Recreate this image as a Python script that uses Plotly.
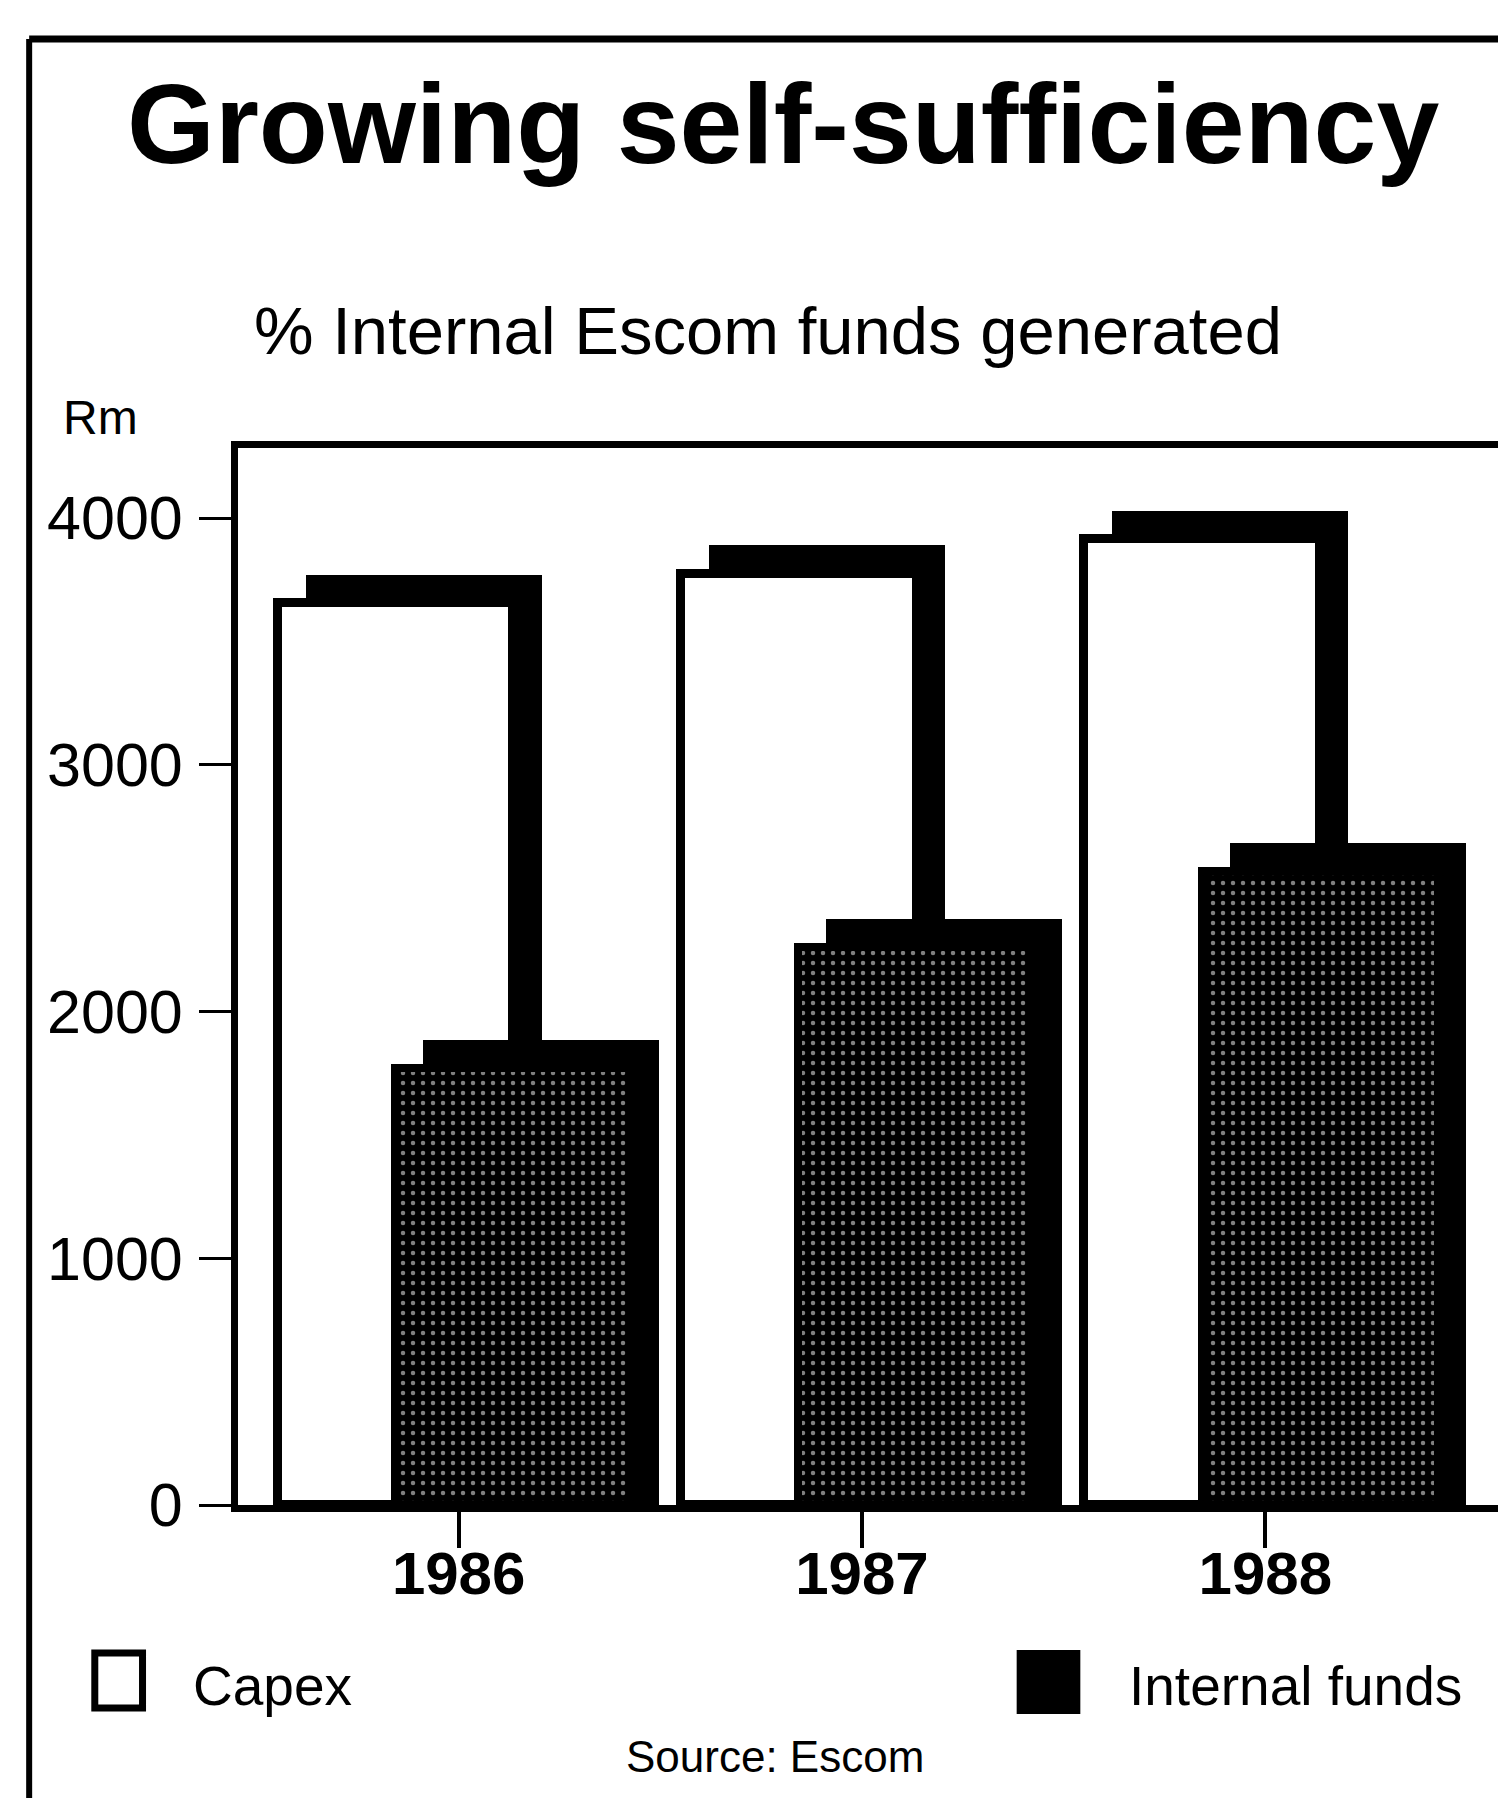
import plotly.graph_objects as go

# ---- data ----
years = ["1986", "1987", "1988"]
capex = [3770, 3890, 4030]            # Rm
internal_funds = [1885, 2375, 2685]   # Rm
y_ticks = [0, 1000, 2000, 3000, 4000]
y_tick_labels = ["0", "1000", "2000", "3000", "4000"]

title = "Growing self-sufficiency"
subtitle = "% Internal Escom funds generated"
unit = "Rm"
source = "Source: Escom"

# ---- style constants ----
W, H = 1506, 1798
L, R, T, B = 230, 1497, 440, 1497           # plot area in pixels
YMAX = 4284
BAR_W = 0.655
CAPEX_OFF = -0.449
FUND_OFF = -0.158
SH_DX = 0.07          # shadow shift (category units)
SH_DY = 115           # shadow depth (value units)
FONT = "Liberation Sans"


def px(x):
    return (x - L) / (R - L)


def py(y):
    return (B - y) / (B - T)


fig = go.Figure()

# Capex: shadow + white face
fig.add_trace(go.Bar(
    x=years, y=capex, offset=CAPEX_OFF + SH_DX, width=BAR_W - SH_DX,
    marker=dict(color="black", line=dict(width=0)), showlegend=False,
    hoverinfo="skip"))
fig.add_trace(go.Bar(
    x=years, y=[v - SH_DY for v in capex], offset=CAPEX_OFF, width=BAR_W - SH_DX,
    marker=dict(color="white", line=dict(color="black", width=9)),
    name="Capex", showlegend=False,
    customdata=capex, hovertemplate="%{x}: %{customdata}<extra>Capex</extra>"))

# Internal funds: shadow + speckled face
fig.add_trace(go.Bar(
    x=years, y=internal_funds, offset=FUND_OFF + SH_DX, width=BAR_W - SH_DX,
    marker=dict(color="black", line=dict(width=0)), showlegend=False,
    hoverinfo="skip"))
fig.add_trace(go.Bar(
    x=years, y=[v - SH_DY for v in internal_funds], offset=FUND_OFF,
    width=BAR_W - SH_DX,
    marker=dict(color="black", line=dict(color="black", width=8),
                pattern=dict(shape=".", fgcolor="white", bgcolor="black",
                             size=10, solidity=0.16)),
    name="Internal funds", showlegend=False,
    customdata=internal_funds,
    hovertemplate="%{x}: %{customdata}<extra>Internal funds</extra>"))

fig.update_layout(
    width=W, height=H,
    margin=dict(l=L, r=W - R, t=T, b=H - B, pad=0),
    paper_bgcolor="white", plot_bgcolor="white",
    barmode="overlay", bargap=0,
    showlegend=False,
    font=dict(family=FONT, color="black"),
)

fig.update_xaxes(
    type="category", range=[-0.547, 2.577],
    showline=True, linecolor="black", linewidth=7, mirror=True,
    ticks="outside", ticklen=36, tickwidth=4, tickcolor="black",
    ticklabelstandoff=-26,
    tickfont=dict(family=FONT, size=60, color="black"),
    tickprefix="<b>", ticksuffix="</b>",
    showgrid=False, zeroline=False,
)
fig.update_yaxes(
    range=[0, YMAX],
    tickvals=y_ticks, ticktext=y_tick_labels,
    showline=True, linecolor="black", linewidth=7, mirror=True,
    ticks="outside", ticklen=32, tickwidth=3, tickcolor="black",
    ticklabelstandoff=4,
    tickfont=dict(family=FONT, size=61, color="black"),
    showgrid=False, zeroline=False,
)

ann = []
ann.append(dict(text="<b>" + title + "</b>", x=px(778), y=py(116),
                xref="paper", yref="paper", xanchor="center", yanchor="middle",
                showarrow=False, font=dict(family=FONT, size=113, color="black")))
ann.append(dict(text=subtitle, x=px(763), y=py(322),
                xref="paper", yref="paper", xanchor="center", yanchor="middle",
                showarrow=False, font=dict(family=FONT, size=67, color="black")))
ann.append(dict(text=unit, x=px(52), y=py(410),
                xref="paper", yref="paper", xanchor="left", yanchor="middle",
                showarrow=False, font=dict(family=FONT, size=48, color="black")))
ann.append(dict(text="Capex", x=px(183), y=py(1678),
                xref="paper", yref="paper", xanchor="left", yanchor="middle",
                showarrow=False, font=dict(family=FONT, size=55, color="black")))
ann.append(dict(text="Internal funds", x=px(1124), y=py(1678),
                xref="paper", yref="paper", xanchor="left", yanchor="middle",
                showarrow=False, font=dict(family=FONT, size=55, color="black")))
ann.append(dict(text=source, x=px(770), y=py(1748),
                xref="paper", yref="paper", xanchor="center", yanchor="middle",
                showarrow=False, font=dict(family=FONT, size=44, color="black")))
fig.update_layout(annotations=ann)

shapes = []
# outer frame (left and top edges visible)
shapes.append(dict(type="line", xref="paper", yref="paper",
                   x0=px(20), y0=py(31), x1=px(20), y1=py(1798),
                   line=dict(color="black", width=6)))
shapes.append(dict(type="line", xref="paper", yref="paper",
                   x0=px(20), y0=py(31), x1=px(1506), y1=py(31),
                   line=dict(color="black", width=7)))
# legend icons
shapes.append(dict(type="rect", xref="paper", yref="paper",
                   x0=px(86), y0=py(1645), x1=px(134), y1=py(1700),
                   fillcolor="white", line=dict(color="black", width=7)))
shapes.append(dict(type="rect", xref="paper", yref="paper",
                   x0=px(1014), y0=py(1643), x1=px(1076), y1=py(1705),
                   fillcolor="black", line=dict(color="black", width=2)))
fig.update_layout(shapes=shapes)

fig.write_html("out.html")
